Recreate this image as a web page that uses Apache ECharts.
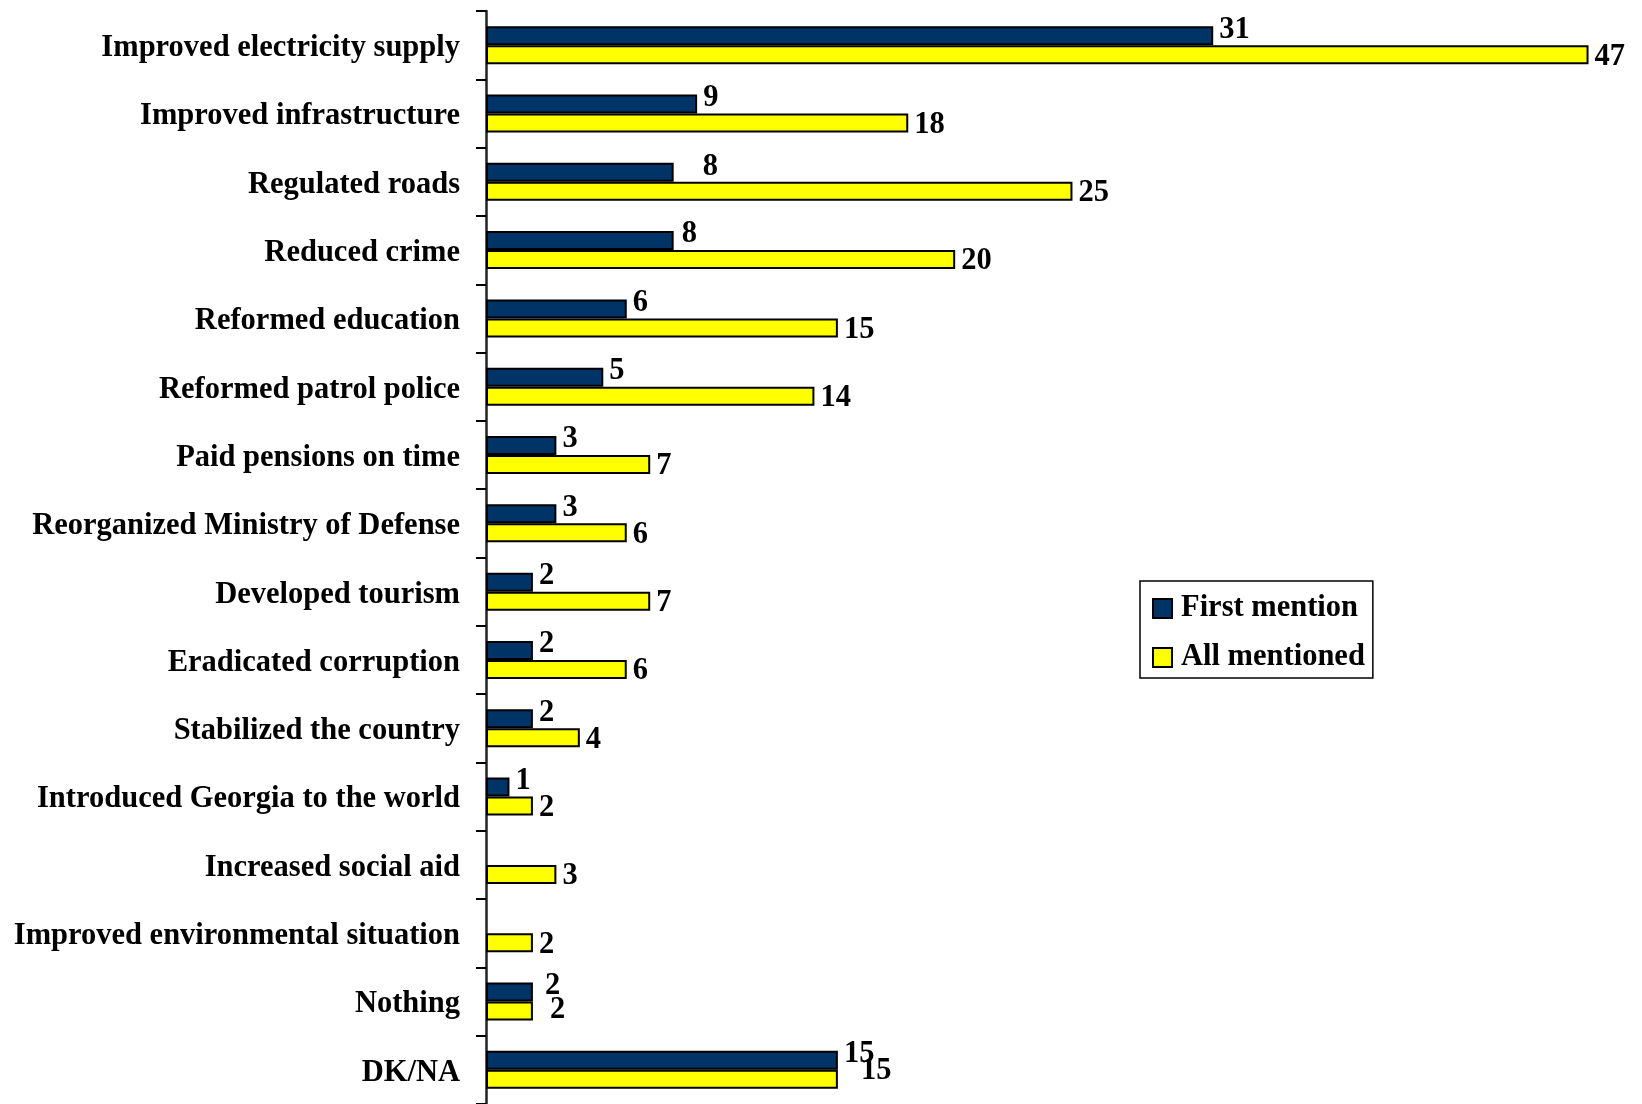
<!DOCTYPE html>
<html>
<head>
<meta charset="utf-8">
<script src="https://cdn.jsdelivr.net/npm/echarts@6/dist/echarts.min.js"></script>
<style>
  html, body { margin: 0; padding: 0; background: #fff; }
  #chart { width: 1642px; height: 1104px; }
</style>
</head>
<body>
<div id="chart"></div>
<script>
// Achievements named by respondents (%)
const categories = [
  'Improved electricity supply',
  'Improved infrastructure',
  'Regulated roads',
  'Reduced crime',
  'Reformed education',
  'Reformed patrol police',
  'Paid pensions on time',
  'Reorganized Ministry of Defense',
  'Developed tourism',
  'Eradicated corruption',
  'Stabilized the country',
  'Introduced Georgia to the world',
  'Increased social aid',
  'Improved environmental situation',
  'Nothing',
  'DK/NA'
];
const firstMention = [31, 9, 8, 8, 6, 5, 3, 3, 2, 2, 2, 1, 0, 0, 2, 15];
const allMentioned = [47, 18, 25, 20, 15, 14, 7, 6, 7, 6, 4, 2, 3, 2, 2, 15];

// Hand-placed label nudges (extra x / y pixels) for a few crowded labels
const firstNudge = { 2: [23, 1], 3: [2, 0], 14: [6, 0] };
const allNudge = { 14: [11, -3], 15: [17, -10] };

const FONT = '"Liberation Serif", "Times New Roman", serif';
const textBase = { fontFamily: FONT, fontSize: 30.5, fontWeight: 'bold', color: '#000' };

function buildData(values, baseOffset, nudges) {
  return values.map((v, i) => {
    const n = nudges[i] || [0, 0];
    return {
      value: v === 0 ? '-' : v,
      label: { offset: [baseOffset[0] + n[0], baseOffset[1] + n[1]] }
    };
  });
}

const chart = echarts.init(document.getElementById('chart'), null, { renderer: 'canvas' });

chart.setOption({
  animation: false,
  backgroundColor: '#fff',
  grid: { left: 486, right: 30, top: 11, bottom: -5, containLabel: false },
  xAxis: {
    type: 'value',
    min: 0,
    max: 48,
    show: false
  },
  yAxis: {
    type: 'category',
    inverse: true,
    data: categories,
    axisLine: { show: true, lineStyle: { color: '#222', width: 2.5 } },
    axisTick: { show: true, length: 10, lineStyle: { color: '#000', width: 2 } },
    axisLabel: {
      margin: 26,
      interval: 0,
      formatter: (v) => '{c|' + v + '}',
      rich: { c: Object.assign({ padding: [6, 0, 0, 0] }, textBase) }
    },
    splitLine: { show: false }
  },
  legend: {
    data: ['First mention', 'All mentioned'],
    orient: 'vertical',
    left: 1140,
    top: 581,
    padding: [12, 8, 5, 12],
    itemWidth: 19,
    itemHeight: 19,
    itemGap: 18,
    icon: 'rect',
    borderColor: '#000',
    borderWidth: 1.5,
    backgroundColor: '#fff',
    textStyle: Object.assign({ padding: [0, 0, 0, 4] }, textBase)
  },
  series: [
    {
      name: 'First mention',
      type: 'bar',
      barWidth: 19,
      barGap: '0%',
      data: buildData(firstMention, [0, -6], firstNudge),
      itemStyle: { color: '#003366', borderColor: '#000', borderWidth: 2 },
      label: Object.assign({ show: true, position: 'right', distance: 6 }, textBase)
    },
    {
      name: 'All mentioned',
      type: 'bar',
      barWidth: 19,
      barGap: '0%',
      data: buildData(allMentioned, [0, 2], allNudge),
      itemStyle: { color: '#FFFF00', borderColor: '#000', borderWidth: 2 },
      label: Object.assign({ show: true, position: 'right', distance: 6 }, textBase)
    }
  ]
});
</script>
</body>
</html>
